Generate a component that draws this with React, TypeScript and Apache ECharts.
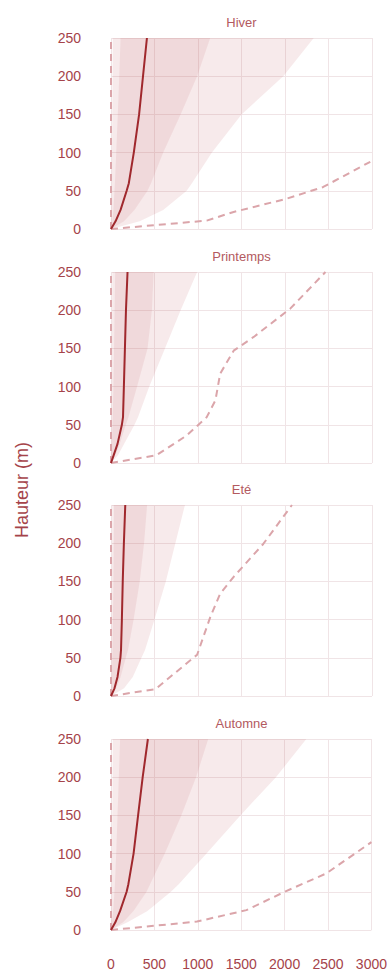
import React, { useEffect, useRef } from "react";
import * as echarts from "echarts";

// Heights (m) at which the profiles are read
const HEIGHTS = [0, 10, 25, 50, 60, 100, 150, 200, 250];

const SEASONS = ["Hiver", "Printemps", "Eté", "Automne"];

// Hiver
const hiverMedian = [0, 52, 110, 180, 205, 262, 323, 368, 413];
const hiverP10 = [0, 3, 5, 8, 9, 12, 15, 18, 20];
const hiverP25 = [0, 15, 28, 40, 45, 60, 78, 95, 110];
const hiverP75 = [0, 150, 270, 420, 460, 600, 800, 990, 1140];
const hiverP90 = [0, 330, 600, 870, 930, 1160, 1500, 1980, 2330];
const hiverMin = [0, 0, 0, 0, 0, 0, 0, 0, 0];
const hiverMaxHeights = [0, 11, 22, 39, 55, 88];
const hiverMax = [0, 1100, 1400, 2000, 2440, 2980];

// Printemps
const printempsMedian = [0, 30, 75, 125, 138, 148, 160, 172, 190];
const printempsP10 = [0, 2, 4, 6, 7, 9, 11, 13, 15];
const printempsP25 = [0, 5, 10, 18, 20, 28, 35, 42, 48];
const printempsP75 = [0, 50, 100, 170, 200, 300, 420, 470, 490];
const printempsP90 = [0, 80, 150, 270, 310, 440, 620, 800, 990];
const printempsMin = [0, 0, 0, 0, 0, 0, 0, 0, 0];
const printempsMaxHeights = [0, 10, 36, 60, 82, 117, 147, 165, 202, 250];
const printempsMax = [0, 520, 870, 1100, 1200, 1255, 1410, 1640, 2060, 2465];

// Eté
const eteMedian = [0, 40, 75, 108, 115, 125, 135, 148, 164];
const eteP10 = [0, 2, 4, 6, 7, 9, 11, 13, 15];
const eteP25 = [0, 5, 10, 15, 18, 22, 28, 32, 35];
const eteP75 = [0, 60, 110, 170, 195, 260, 330, 380, 415];
const eteP90 = [0, 150, 250, 350, 390, 500, 630, 740, 850];
const eteMin = [0, 0, 0, 0, 0, 0, 0, 0, 0];
const eteMaxHeights = [0, 9, 54, 103, 134, 156, 199, 250];
const eteMax = [0, 510, 990, 1140, 1255, 1410, 1750, 2080];

// Automne
const automneMedian = [0, 50, 105, 180, 200, 260, 312, 365, 425];
const automneP10 = [0, 3, 5, 8, 9, 12, 15, 18, 20];
const automneP25 = [0, 10, 25, 40, 45, 60, 75, 90, 105];
const automneP75 = [0, 140, 260, 410, 450, 620, 810, 980, 1120];
const automneP90 = [0, 190, 420, 690, 780, 1100, 1490, 1900, 2250];
const automneMin = [0, 0, 0, 0, 0, 0, 0, 0, 0];
const automneMaxHeights = [0, 11, 26, 50, 74, 115];
const automneMax = [0, 990, 1560, 2000, 2480, 3000];

const X_MIN = 0;
const X_MAX = 3000;
const X_INTERVAL = 500;
const Y_MIN = 0;
const Y_MAX = 250;
const Y_INTERVAL = 50;
const Y_TITLE = "Hauteur (m)";

const PANELS = [
  { median: hiverMedian, p10: hiverP10, p25: hiverP25, p75: hiverP75, p90: hiverP90, min: hiverMin, maxH: hiverMaxHeights, max: hiverMax },
  { median: printempsMedian, p10: printempsP10, p25: printempsP25, p75: printempsP75, p90: printempsP90, min: printempsMin, maxH: printempsMaxHeights, max: printempsMax },
  { median: eteMedian, p10: eteP10, p25: eteP25, p75: eteP75, p90: eteP90, min: eteMin, maxH: eteMaxHeights, max: eteMax },
  { median: automneMedian, p10: automneP10, p25: automneP25, p75: automneP75, p90: automneP90, min: automneMin, maxH: automneMaxHeights, max: automneMax },
];

const FONT = '"Liberation Sans", Arial, Helvetica, sans-serif';
const GRID_LEFT = 111;
const GRID_RIGHT = 18;
const GRID_TOPS = [38, 272, 505, 739];
const GRID_HEIGHT = 191;
const LABEL_COLOR = "#a5434a";
const TITLE_COLOR = "#b35a60";
const MEDIAN_COLOR = "#a0282d";
const DASH_COLOR = "#dba5aa";
const SPLIT_COLOR = "#f0e4e6";
const BAND_OUTER = "rgba(178, 60, 70, 0.11)";
const BAND_INNER = "rgba(178, 60, 70, 0.09)";

function bandSeries(idx: number, lower: number[], upper: number[], color: string) {
  const pts: number[][] = [];
  HEIGHTS.forEach((h, i) => pts.push([upper[i], h]));
  for (let i = HEIGHTS.length - 1; i >= 0; i--) pts.push([lower[i], HEIGHTS[i]]);
  return {
    type: "custom",
    xAxisIndex: idx,
    yAxisIndex: idx,
    data: pts,
    silent: true,
    clip: true,
    z: 1,
    renderItem: (params: any, api: any) => {
      if (params.dataIndex !== 0) return null;
      const points = pts.map((p) => api.coord(p));
      return { type: "polygon", shape: { points }, style: { fill: color } };
    },
  };
}

function lineSeries(idx: number, xs: number[], hs: number[], color: string, width: number, dashed: boolean) {
  return {
    type: "line",
    xAxisIndex: idx,
    yAxisIndex: idx,
    data: xs.map((x, i) => [x, hs[i]]),
    showSymbol: false,
    symbol: "none",
    silent: true,
    clip: true,
    z: dashed ? 3 : 4,
    lineStyle: { color, width, type: dashed ? [7, 5] : "solid" },
  };
}

export default function App() {
  const ref = useRef<HTMLDivElement>(null);
  useEffect(() => {
    document.body.style.margin = "0";
    const chart = echarts.init(ref.current as HTMLDivElement, null, { renderer: "svg" });

    const grid = GRID_TOPS.map((top) => ({
      left: GRID_LEFT,
      right: GRID_RIGHT,
      top,
      height: GRID_HEIGHT,
      containLabel: false,
    }));

    const xAxis = GRID_TOPS.map((_, i) => ({
      type: "value",
      gridIndex: i,
      min: X_MIN,
      max: X_MAX,
      interval: X_INTERVAL,
      axisLine: { show: false },
      axisTick: { show: false },
      splitLine: { show: true, lineStyle: { color: SPLIT_COLOR, width: 1 } },
      axisLabel: {
        show: i === GRID_TOPS.length - 1,
        color: LABEL_COLOR,
        fontSize: 14,
        fontFamily: FONT,
        margin: 27,
        formatter: (v: number) => String(v),
      },
    }));

    const yAxis = GRID_TOPS.map((_, i) => ({
      type: "value",
      gridIndex: i,
      min: Y_MIN,
      max: Y_MAX,
      interval: Y_INTERVAL,
      axisLine: { show: false },
      axisTick: { show: false },
      splitLine: { show: true, lineStyle: { color: SPLIT_COLOR, width: 1 } },
      axisLabel: {
        color: LABEL_COLOR,
        fontSize: 14,
        fontFamily: FONT,
        margin: 30,
        formatter: (v: number) => String(v),
      },
    }));

    const series: any[] = [];
    PANELS.forEach((p, i) => {
      series.push(bandSeries(i, p.p10, p.p90, BAND_OUTER));
      series.push(bandSeries(i, p.p25, p.p75, BAND_INNER));
      series.push(lineSeries(i, p.min, HEIGHTS, DASH_COLOR, 2, true));
      series.push(lineSeries(i, p.max, p.maxH, DASH_COLOR, 2, true));
      series.push(lineSeries(i, p.median, HEIGHTS, MEDIAN_COLOR, 2, false));
    });

    const centerX = GRID_LEFT + (390 - GRID_LEFT - GRID_RIGHT) / 2;
    const graphic: any[] = SEASONS.map((s, i) => ({
      type: "text",
      x: centerX,
      y: GRID_TOPS[i] - 16,
      silent: true,
      style: {
        text: s,
        fill: TITLE_COLOR,
        font: `13px ${FONT}`,
        textAlign: "center",
        textVerticalAlign: "middle",
      },
    }));
    graphic.push({
      type: "text",
      x: 22,
      y: 490,
      rotation: Math.PI / 2,
      silent: true,
      style: {
        text: Y_TITLE,
        fill: LABEL_COLOR,
        font: `18px ${FONT}`,
        textAlign: "center",
        textVerticalAlign: "middle",
      },
    });

    chart.setOption({
      animation: false,
      backgroundColor: "#ffffff",
      grid,
      xAxis,
      yAxis,
      series,
      graphic,
    });
    return () => chart.dispose();
  }, []);
  return <div ref={ref} style={{ width: 390, height: 972 }} />;
}
